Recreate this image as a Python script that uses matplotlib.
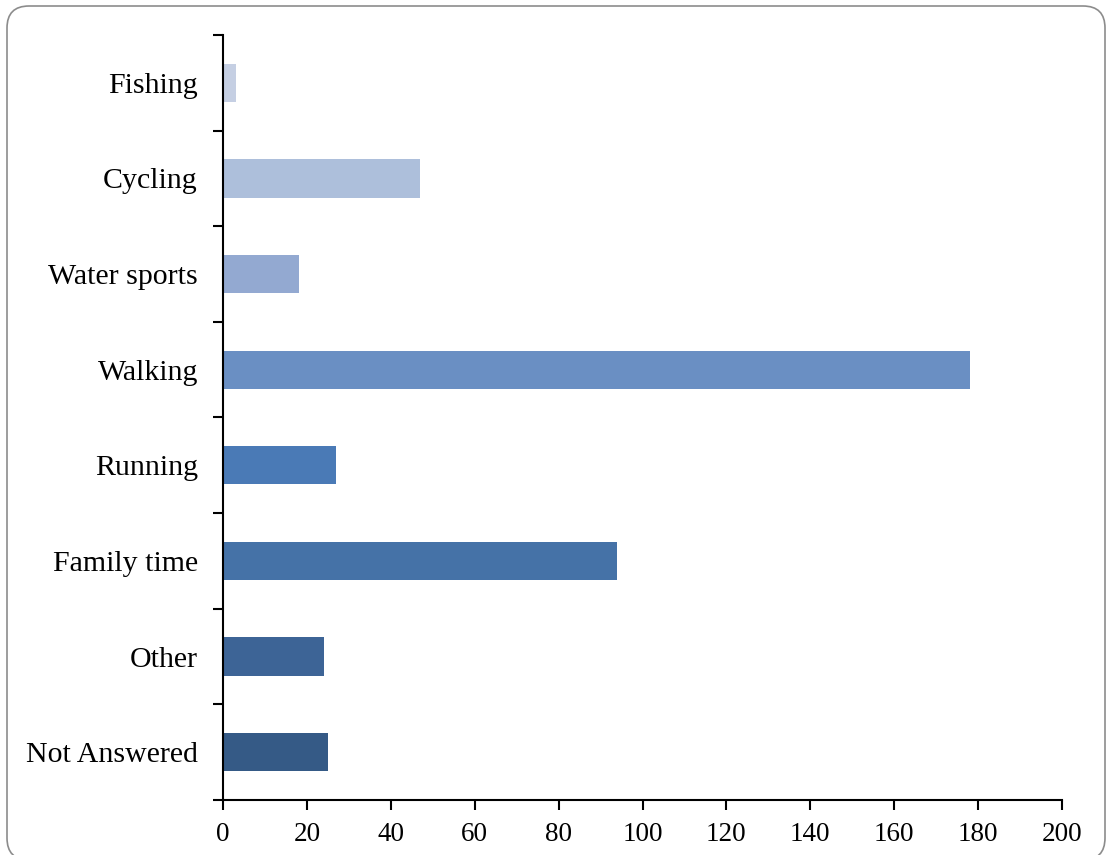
import matplotlib
matplotlib.use("Agg")
import matplotlib.pyplot as plt
from matplotlib.patches import FancyBboxPatch
import numpy as np

categories = ["Fishing", "Cycling", "Water sports", "Walking", "Running",
              "Family time", "Other", "Not Answered"]
values = [3, 47, 18, 178, 27, 94, 24, 25]
colors = ["#C5CFE3", "#ADBFDB", "#93A9D1", "#6A8FC3", "#4A7AB6",
          "#4572A7", "#3D6496", "#355A86"]
xticks = [0, 20, 40, 60, 80, 100, 120, 140, 160, 180, 200]

plt.rcParams['font.family'] = ['Liberation Serif', 'DejaVu Serif']

fig = plt.figure(figsize=(11.06, 8.55), dpi=100)
ax = fig.add_axes([223/1106, 1-800/855, (1062-223)/1106, (800-35)/855])

n = len(categories)
ypos = np.arange(n)[::-1]
ax.barh(ypos, values, height=0.4, color=colors, zorder=2)

ax.set_xlim(0, 200)
ax.set_ylim(-0.5, n - 0.5)
ax.set_xticks(xticks)
ax.set_xticklabels([str(t) for t in xticks], fontsize=19.5)

ax.set_yticks(np.arange(-0.5, n, 1.0))
ax.set_yticklabels([])
ax.set_yticks(ypos, minor=True)
ax.set_yticklabels(categories, minor=True, fontsize=21.5)
ax.tick_params(axis='y', which='minor', length=0, pad=18)
ax.tick_params(axis='y', which='major', length=7, width=1.5, direction='out')
ax.tick_params(axis='x', length=7, width=1.5, direction='out', pad=9)

for s in ['top', 'right']:
    ax.spines[s].set_visible(False)
for s in ['left', 'bottom']:
    ax.spines[s].set_linewidth(1.5)
    ax.spines[s].set_color('black')

frame = FancyBboxPatch((7, -5), 1098, 854,
                       boxstyle="round,pad=0,rounding_size=22",
                       transform=None, fill=False, edgecolor='#8C8C8C',
                       linewidth=1.2, zorder=10)
fig.patches.append(frame)

fig.savefig("out.png", dpi=100, facecolor='white')
